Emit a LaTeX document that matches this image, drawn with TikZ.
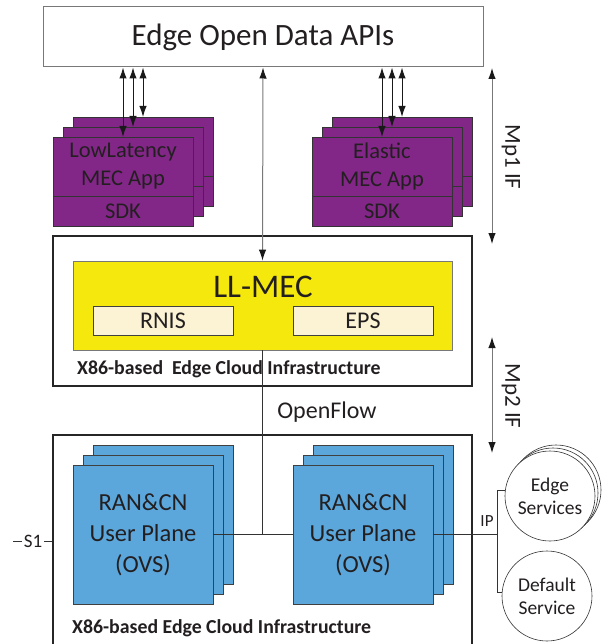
\documentclass[tikz,border=0pt]{standalone}
\usepackage{fontspec}
\setmainfont{Carlito}
\usetikzlibrary{positioning,calc,arrows.meta}

\definecolor{mecpurple}{RGB}{130,38,136}
\definecolor{ranblue}{RGB}{91,166,219}
\definecolor{mecyellow}{RGB}{245,232,12}
\definecolor{svccream}{RGB}{251,243,212}
\definecolor{txtdark}{RGB}{35,31,32}
\definecolor{linegray}{RGB}{120,120,120}

\begin{document}
\begin{tikzpicture}[x=1pt,y=-1pt,
		apibox/.style={draw=linegray,line width=1pt,fill=white,minimum width=440,minimum height=60,text=txtdark,font=\fontsize{31}{36}\selectfont},
		appfill/.style={draw=black!80,fill=mecpurple,line width=0.8pt},
		appbox/.style={appfill,minimum width=140,outer sep=0pt,align=center,text=txtdark,font=\fontsize{22.5}{28}\selectfont},
		ranfill/.style={draw=black!75,fill=ranblue,line width=0.8pt},
		ranbox/.style={ranfill,minimum width=140,minimum height=139,align=center,text=txtdark,font=\fontsize{24.5}{31}\selectfont},
		infra/.style={draw=black!85,line width=2.5pt},
		infratxt/.style={anchor=west,inner sep=0pt,text=txtdark,font=\bfseries\fontsize{19.8}{23}\selectfont},
		mec/.style={draw=linegray,fill=mecyellow,line width=0.8pt,minimum width=379,minimum height=89},
		svcbox/.style={draw=black!75,fill=svccream,line width=0.8pt,minimum width=140,minimum height=29,text=txtdark,font=\fontsize{24}{26}\selectfont},
		svc/.style={circle,draw=black!80,fill=white,line width=0.6pt,minimum size=90,inner sep=0pt,align=center,text=txtdark,font=\fontsize{19.5}{23}\selectfont},
		apiarrow/.style={{Latex[length=11pt,width=7.5pt]}-{Latex[length=11pt,width=7.5pt]},line width=1pt,draw=black!90},
		mparrow/.style={{Latex[length=11pt,width=7.5pt,color=black!90]}-{Latex[length=11pt,width=7.5pt,color=black!90]},line width=1pt,draw=linegray},
		ofline/.style={draw=black!80,line width=0.9pt},
		lbl/.style={text=txtdark,font=\fontsize{23}{27}\selectfont}
		]
		\useasboundingbox (0,0) rectangle (605,644);
		
		% top api box
		\node[apibox] (api) at (263,37) {Edge Open Data APIs};
		
		% mec app stacks
		\foreach \x in {53,312}{
			\foreach \d in {20,10}{
				\draw[appfill] (\x+\d,137-\d) rectangle (\x+140+\d,196-\d);
				\draw[appfill] (\x+\d,196-\d) rectangle (\x+140+\d,226-\d);
			}
		}
		\node[appbox,minimum height=59] (lapp) at (123,166.5) {LowLatency\\MEC App};
		\node[appbox,minimum height=30,below=0pt of lapp] (lsdk) {SDK};
		\node[appbox,minimum height=59] (rapp) at (382,166.5) {Elastic\\MEC App};
		\node[appbox,minimum height=30,below=0pt of rapp] (rsdk) {SDK};
		\foreach \n in {lapp,rapp}{
			\foreach \d in {0,10,20}
				\draw[apiarrow] ($(\n.north)+(\d,-\d)$) -- ($(api.south -| \n.north)+(\d,0)$);
		}
		
		% upper edge cloud with ll-mec
		\node[infra,minimum width=419,minimum height=150] (ubox) at (262.5,311) {};
		\node[mec] (llmec) at (262.5,305.5) {};
		\node[lbl,font=\fontsize{33}{38}\selectfont] (mectitle) at (263,287) {LL-MEC};
		\node[svcbox] (rnis) at (163,320.5) {RNIS};
		\node[svcbox] (eps) at (363,320.5) {EPS};
		\node[infratxt] (utxt) at (77,369) {X86-based\ \ Edge Cloud Infrastructure};
		\draw[mparrow] (api.south) -- (llmec.north);
		
		% lower edge cloud with user planes
		\node[infra,minimum width=419,minimum height=215] (lbox) at (262.5,542.5) {};
		\foreach \x in {73,293}{
			\foreach \d in {20,10}
				\draw[ranfill] (\x+\d,465-\d) rectangle (\x+140+\d,604-\d);
		}
		\node[ranbox] (lran) at (143,534.5) {RAN\&CN\\User Plane\\(OVS)};
		\node[ranbox] (rran) at (363,534.5) {RAN\&CN\\User Plane\\(OVS)};
		\node[infratxt] (ltxt) at (72,628) {X86-based Edge Cloud Infrastructure};
		\node[lbl,font=\fontsize{24}{28}\selectfont] (of) at (327,412) {OpenFlow};
		
		% openflow and ip links
		\coordinate (ipj) at (497,534.5);
		\draw[ofline] (llmec.south) -- (llmec.south |- lran.east);
		\draw[ofline] (lran.east) -- (rran.west);
		\draw[ofline] (rran.east) -- (ipj);
		\node[lbl,font=\fontsize{17}{20}\selectfont] (ip) at (487,521) {IP};
		
		% services
		\foreach \d in {6,3}
			\node[svc] (edge\d) at (550+\d,496-\d) {};
		\node[svc] (edge) at (550,496) {Edge\\Services};
		\node[svc] (dflt) at (547,596) {Default\\Service};
		\draw[ofline] (edge.173) -- (edge.173 -| ipj) -- (dflt.176 -| ipj) -- (dflt.176);
		
		% s1 interface
		\node[lbl,font=\fontsize{19}{23}\selectfont,inner sep=2pt] (s1) at (33,541) {S1};
		\coordinate (s1end) at (13,541);
		\draw[ofline] (s1end) -- (s1.west);
		\draw[ofline] (s1.east) -- (s1.east -| lbox.west);
		
		% mp interfaces
		\coordinate (mp1t) at (492,68);
		\coordinate (mp1b) at (492,244);
		\coordinate (mp2t) at (492,337);
		\coordinate (mp2b) at (492,453);
		\draw[mparrow] (mp1t) -- (mp1b);
		\draw[mparrow] (mp2t) -- (mp2b);
		\node[lbl,rotate=-90] (mp1) at (511,157) {Mp1 IF};
		\node[lbl,rotate=-90] (mp2) at (511,396) {Mp2 IF};
	\end{tikzpicture}
\end{document}
